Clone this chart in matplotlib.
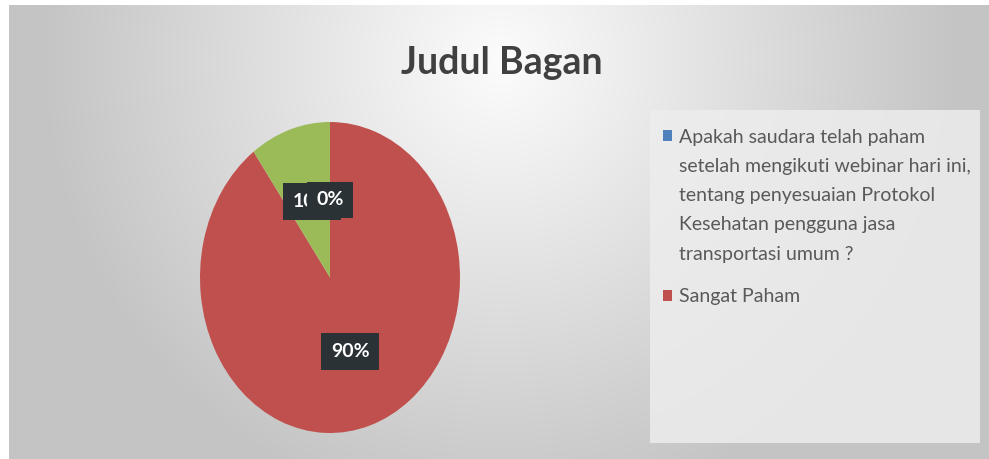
import numpy as np
import matplotlib
matplotlib.use("Agg")
import matplotlib.pyplot as plt
from matplotlib.patches import Rectangle
from matplotlib.legend_handler import HandlerPatch

categories = ["Apakah saudara telah paham\nsetelah mengikuti webinar hari ini,\ntentang penyesuaian Protokol\nKesehatan pengguna jasa\ntransportasi umum ?",
              "Sangat Paham", "Paham"]
values = [0, 90, 10]
colors = ["#4F81BD", "#C0504D", "#9BBB59"]
title = "Judul Bagan"

FONT = ["Lato", "DejaVu Sans"]
W, H = 989, 459
fig = plt.figure(figsize=(W / 100, H / 100), dpi=100)
fig.patch.set_facecolor("white")

def px(x0, y0, x1, y1):
    return [x0 / W, 1 - y1 / H, (x1 - x0) / W, (y1 - y0) / H]

# background gradient
bg = fig.add_axes(px(9, 5, W, H))
bg.set_axis_off()
yy, xx = np.mgrid[5:H, 9:W]
d = np.sqrt(((xx - 500) / 560.0) ** 2 + ((yy - 60) / 560.0) ** 2)
g = np.clip(252 - 68 * d, 196, 252) / 255.0
bg.imshow(np.dstack([g, g, g]), aspect="auto", extent=(0, 1, 0, 1))
bg.set_xlim(0, 1); bg.set_ylim(0, 1)

# legend background box
lb = fig.add_axes(px(650, 110, 980, 443))
lb.set_axis_off()
lb.add_patch(Rectangle((0, 0), 1, 1, transform=lb.transAxes, facecolor="#ededed", edgecolor="none", alpha=0.85))

fig.text(502 / W, 1 - 63 / H, title, ha="center", va="center", fontsize=27,
         fontweight="bold", color="#404040", family=FONT)

ax = fig.add_axes(px(200, 122, 460, 433))
wedges, texts, autotexts = ax.pie(values, colors=colors, startangle=90, counterclock=False,
                                  autopct="%1.0f%%", pctdistance=0.5, radius=1,
                                  wedgeprops=dict(linewidth=0),
                                  textprops=dict(color="white", fontsize=14, fontweight="bold",
                                                 family=FONT))
ax.set_aspect("auto")
ax.set_xlim(-1, 1); ax.set_ylim(-1, 1)
for i, t in enumerate(autotexts):
    t.set_bbox(dict(boxstyle="square,pad=0.5", facecolor="#2a3236", edgecolor="none"))
    t.set_zorder(10 if i == 0 else 5)
autotexts[2].set_position((-0.14, 0.49))

def top_patch(legend, orig_handle, xdescent, ydescent, width, height, fontsize):
    return Rectangle((-xdescent, -ydescent + 2 * 30 * 0.72), width, height)

leg = fig.legend(wedges[:2], categories[:2], loc="upper left",
                 bbox_to_anchor=(645 / W, 1 - 111 / H), frameon=False,
                 prop=dict(family=FONT, size=14),
                 handlelength=0.5, handleheight=0.5, handletextpad=0.35,
                 labelspacing=1.3, labelcolor="#595959",
                 handler_map={wedges[0]: HandlerPatch(patch_func=top_patch)})
for t in leg.get_texts():
    t.set_linespacing(1.88)

fig.savefig("out.png", dpi=100)
